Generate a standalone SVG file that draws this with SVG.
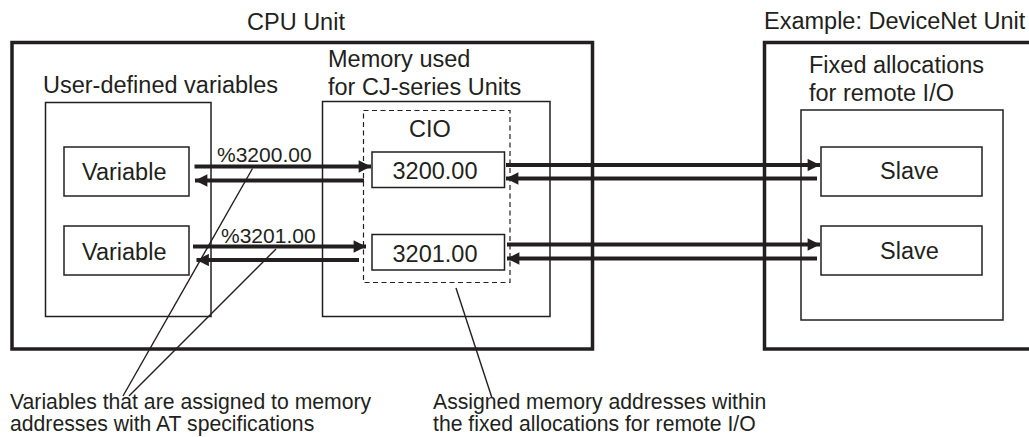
<svg xmlns="http://www.w3.org/2000/svg" width="1029" height="437" viewBox="0 0 1029 437">
<defs>
<style>
text{font-family:"Liberation Sans",Arial,sans-serif;fill:#231f20}
.h{font-size:23.5px}
.s{font-size:21px}
.c{font-size:21.2px}
.thick{fill:none;stroke:#231f20;stroke-width:3.5}
.thin{fill:#fff;stroke:#231f20;stroke-width:1.5}
.dash{fill:none;stroke:#231f20;stroke-width:1.2;stroke-dasharray:5,3.5}
.arr{fill:none;stroke:#231f20;stroke-width:4;marker-end:url(#ah)}
.lead{fill:none;stroke:#231f20;stroke-width:1.4}
</style>
<marker id="ah" viewBox="0 0 12 12" refX="12" refY="6" markerWidth="3.3" markerHeight="3.1" markerUnits="strokeWidth" orient="auto">
<path d="M0,0 L12,6 L0,12 Z" fill="#231f20"/>
</marker>
</defs>
<rect width="1029" height="437" fill="#fff"/>

<g id="cpu-unit">
<rect class="thick" x="12" y="42.5" width="580.5" height="306.5"/>
<text class="h" x="247" y="30">CPU Unit</text>
</g>

<g id="devicenet-unit">
<rect class="thick" x="764.5" y="42.5" width="290" height="306.5"/>
<text class="h" x="764" y="29">Example: DeviceNet Unit</text>
</g>

<g id="user-vars">
<rect class="thin" x="45.5" y="102.5" width="165.5" height="214"/>
<text class="h" x="43" y="93">User-defined variables</text>
</g>

<g id="memory">
<rect class="thin" x="322.5" y="101.5" width="227.5" height="215"/>
<text class="h" x="328" y="67">Memory used</text>
<text class="h" x="328" y="95">for CJ-series Units</text>
</g>

<g id="cio">
<rect class="dash" x="363.5" y="110.5" width="146.5" height="172"/>
<text class="h" x="409" y="137">CIO</text>
</g>

<g id="fixed-alloc">
<rect class="thin" x="801" y="110" width="202" height="210"/>
<text class="h" x="809" y="73">Fixed allocations</text>
<text class="h" x="809" y="101">for remote I/O</text>
</g>

<g id="variable1">
<rect class="thin" x="64" y="147" width="125" height="49"/>
<text class="h" x="82" y="180">Variable</text>
</g>
<g id="variable2">
<rect class="thin" x="64" y="226" width="125" height="49"/>
<text class="h" x="82" y="259.5">Variable</text>
</g>

<g id="addr3200">
<rect class="thin" x="372" y="152" width="132.5" height="35.5"/>
<text class="h" x="392.5" y="179">3200.00</text>
</g>
<g id="addr3201">
<rect class="thin" x="372" y="234.5" width="132.5" height="35.5"/>
<text class="h" x="392.5" y="262">3201.00</text>
</g>

<g id="slave1">
<rect class="thin" x="821" y="147" width="161" height="49"/>
<text class="h" x="880" y="179">Slave</text>
</g>
<g id="slave2">
<rect class="thin" x="821" y="226" width="161" height="49"/>
<text class="h" x="880" y="259">Slave</text>
</g>

<g id="connectors">
<line class="arr" x1="194.5" y1="166.5" x2="371" y2="166.5"/>
<line class="arr" x1="364" y1="180.5" x2="195" y2="180.5"/>
<line class="arr" x1="193" y1="246.5" x2="366" y2="246.5"/>
<line class="arr" x1="359" y1="260" x2="196.5" y2="260"/>
<line class="arr" x1="506" y1="165" x2="820" y2="165"/>
<line class="arr" x1="817" y1="178.5" x2="506" y2="178.5"/>
<line class="arr" x1="507" y1="244.5" x2="820" y2="244.5"/>
<line class="arr" x1="817" y1="258.5" x2="507" y2="258.5"/>
<text class="s" x="217" y="162">%3200.00</text>
<text class="s" x="221" y="243">%3201.00</text>
<line class="lead" x1="252.5" y1="168.5" x2="123" y2="396"/>
<line class="lead" x1="276" y1="249" x2="129" y2="396"/>
<line class="lead" x1="456" y1="288" x2="492" y2="398"/>
</g>

<g id="captions">
<text class="c" x="10" y="409">Variables that are assigned to memory</text>
<text class="c" x="10" y="431">addresses with AT specifications</text>
<text class="c" x="433" y="409">Assigned memory addresses within</text>
<text class="c" x="433" y="431">the fixed allocations for remote I/O</text>
</g>
</svg>
